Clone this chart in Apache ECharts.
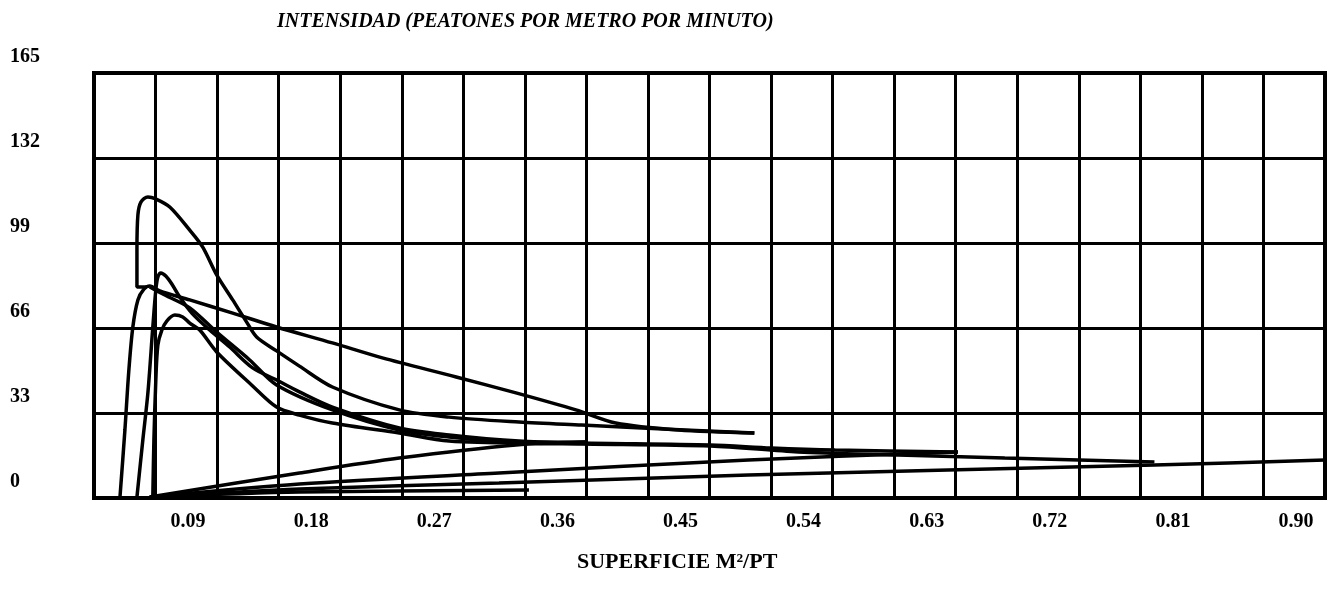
<!DOCTYPE html>
<html>
<head>
<meta charset="utf-8">
<script src="https://cdn.jsdelivr.net/npm/echarts@6/dist/echarts.min.js"></script>
<style>
  html, body { margin: 0; padding: 0; background: #fff; }
  #chart { width: 1330px; height: 597px; }
</style>
</head>
<body>
<div id="chart"></div>
<script>
// valores: [superficie m2/pt, intensidad]
var xTickLabels = ['0.09', '0.18', '0.27', '0.36', '0.45', '0.54', '0.63', '0.72', '0.81', '0.90'];
var yTickLabels = ['0', '33', '66', '99', '132', '165'];

// curva con el pico mas alto
var curveA = [
  [0.0387, 81.9], [0.0314, 81.9], [0.0314, 96.3], [0.0321, 109.9], [0.0343, 114.9],
  [0.0394, 116.9], [0.0452, 116.1], [0.0554, 113.0], [0.0700, 104.0], [0.0795, 97.4],
  [0.0897, 86.6], [0.1014, 76.9], [0.1116, 68.3], [0.1189, 62.5], [0.1335, 57.1],
  [0.1502, 51.2], [0.1743, 43.1], [0.2232, 34.2], [0.2596, 31.4], [0.3107, 29.5],
  [0.3566, 28.3], [0.4004, 27.2], [0.4828, 25.2]
];
// curva larga que baja suave
var curveQ = [
  [0.0190, 0.4], [0.0226, 26.4], [0.0255, 49.7], [0.0284, 66.4], [0.0321, 76.9],
  [0.0365, 81.1], [0.0408, 82.3], [0.0481, 80.4], [0.0700, 76.9], [0.1014, 71.8],
  [0.1335, 66.4], [0.1743, 60.2], [0.2108, 54.4], [0.2648, 47.0], [0.3085, 40.8],
  [0.3523, 34.2], [0.3814, 29.1], [0.4274, 26.4], [0.4828, 25.2]
];
var curveR = [
  [0.0314, 0.4], [0.0357, 22.5], [0.0394, 40.8], [0.0430, 66.4], [0.0452, 80.8],
  [0.0467, 85.8], [0.0489, 87.4], [0.0525, 86.2], [0.0569, 83.1], [0.0627, 78.0],
  [0.0715, 71.8], [0.0846, 65.2], [0.0992, 58.6], [0.1160, 50.5], [0.1335, 45.8],
  [0.1502, 41.2], [0.1743, 35.3], [0.2232, 27.2], [0.2596, 24.5], [0.3107, 22.1],
  [0.3566, 21.4], [0.4507, 20.6], [0.4952, 19.4], [0.5419, 18.6], [0.6316, 17.9]
];
var curveR2 = [
  [0.0408, 81.9], [0.0518, 78.8], [0.0700, 73.8], [0.0897, 64.4], [0.1138, 53.6],
  [0.1335, 43.9], [0.1743, 34.2], [0.2232, 26.4], [0.2596, 23.7], [0.3107, 21.4],
  [0.3566, 21.0], [0.4507, 20.2], [0.5149, 17.9], [0.5878, 16.7], [0.6659, 15.5],
  [0.7753, 14.0]
];
var curveS = [
  [0.0430, 0.4], [0.0438, 22.5], [0.0452, 45.8], [0.0467, 59.4], [0.0496, 65.2],
  [0.0532, 68.7], [0.0591, 71.0], [0.0649, 70.3], [0.0700, 67.9], [0.0773, 65.2],
  [0.0897, 56.7], [0.1152, 43.9], [0.1335, 35.3], [0.1502, 32.2], [0.1743, 29.1],
  [0.2232, 25.2], [0.2596, 22.1], [0.3107, 21.4], [0.3596, 21.7]
];
// rectas que salen del origen
var lineU = [[0.0408, 0.4], [0.1502, 9.7], [0.2232, 15.5], [0.3085, 20.6], [0.3596, 21.7]];
var lineV = [[0.0408, 0.4], [0.1502, 5.4], [0.2961, 9.7], [0.4784, 14.8], [0.6316, 17.9]];
var lineL = [[0.0408, 0.4], [0.1502, 3.5], [0.2961, 5.8], [0.4784, 8.9], [0.6243, 10.9], [0.7753, 12.8], [0.9000, 14.8]];
var lineW = [[0.0408, 0.4], [0.1502, 2.3], [0.3180, 3.1]];

var chart = echarts.init(document.getElementById('chart'));

function curve(data) {
  return {
    type: 'line',
    data: data,
    smooth: 0.3,
    symbol: 'none',
    lineStyle: { color: '#000', width: 3.5 },
    z: 3
  };
}

chart.setOption({
  animation: false,
  backgroundColor: '#fff',
  textStyle: { fontFamily: 'Liberation Serif', color: '#000' },
  title: [{
    text: 'INTENSIDAD (PEATONES POR METRO POR MINUTO)',
    left: 277,
    top: 12,
    padding: 0,
    textStyle: { fontFamily: 'Liberation Serif', fontStyle: 'italic', fontWeight: 'bold', fontSize: 20, color: '#000' }
  }, {
    text: 'SUPERFICIE M²/PT',
    left: 577,
    top: 551,
    padding: 0,
    textStyle: { fontFamily: 'Liberation Serif', fontWeight: 'bold', fontSize: 22, color: '#000' }
  }],
  grid: {
    left: 94,
    top: 73,
    width: 1231,
    height: 425,
    show: true,
    borderColor: '#000',
    borderWidth: 4
  },
  xAxis: {
    type: 'value',
    min: 0,
    max: 0.9,
    interval: 0.045,
    axisLine: { show: true, lineStyle: { color: '#000', width: 4 } },
    axisTick: { show: false },
    splitLine: { show: true, lineStyle: { color: '#000', width: 3 } },
    axisLabel: {
      margin: 14,
      padding: [0, 58, 0, 0],
      fontFamily: 'Liberation Serif',
      fontWeight: 'bold',
      fontSize: 20,
      color: '#000',
      formatter: function (value, index) {
        if (index > 0 && index % 2 === 0) {
          return xTickLabels[index / 2 - 1];
        }
        return '';
      }
    }
  },
  yAxis: {
    type: 'value',
    min: 0,
    max: 165,
    interval: 33,
    axisLine: { show: true, lineStyle: { color: '#000', width: 4 } },
    axisTick: { show: false },
    splitLine: { show: true, lineStyle: { color: '#000', width: 3 } },
    axisLabel: {
      align: 'left',
      verticalAlign: 'bottom',
      margin: 84,
      padding: [0, 0, 6, 0],
      fontFamily: 'Liberation Serif',
      fontWeight: 'bold',
      fontSize: 20,
      color: '#000',
      formatter: function (value, index) {
        return yTickLabels[index];
      }
    }
  },
  series: [
    curve(curveA),
    curve(curveQ),
    curve(curveR),
    curve(curveR2),
    curve(curveS),
    curve(lineU),
    curve(lineV),
    curve(lineL),
    curve(lineW)
  ]
});
</script>
</body>
</html>
